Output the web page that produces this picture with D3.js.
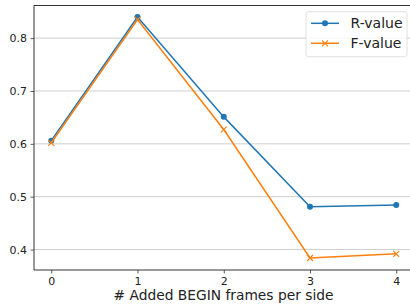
<!DOCTYPE html>
<html><head><meta charset="utf-8">
<script src="https://cdn.jsdelivr.net/npm/d3@7"></script>
<style>body{margin:0;background:#fff}svg{display:block;font-family:"DejaVu Sans",sans-serif}</style>
</head><body><svg id="c" width="410" height="308"></svg>
<script>
const xValues = [0, 1, 2, 3, 4];
const rValues = [0.606, 0.840, 0.651, 0.481, 0.4845];
const fValues = [0.602, 0.835, 0.627, 0.384, 0.392];
const yTicks = [0.4, 0.5, 0.6, 0.7, 0.8];
const seriesNames = ["R-value", "F-value"];
const colors = ["#1f77b4", "#ff7f0e"];
const xLabel = "# Added BEGIN frames per side";

const svg = d3.select("#c");
const L = 34, T = 5.5, B = 270, R = 413.5;
const x = d3.scaleLinear().domain([-0.2, 4.2]).range([L, R]);
const y = d3.scaleLinear().domain([0.3613, 0.8617]).range([B, T]);

// grid
svg.append("g").selectAll("line").data(yTicks).join("line")
  .attr("x1", L).attr("x2", R).attr("y1", d => y(d)).attr("y2", d => y(d))
  .attr("stroke", "#c8c8c8").attr("stroke-width", 0.9);

// axes
const ya = svg.append("g").attr("transform", `translate(${L},0)`)
  .call(d3.axisLeft(y).tickValues(yTicks).tickFormat(d3.format(".1f")).tickSize(3.5).tickPadding(3.5));
const xa = svg.append("g").attr("transform", `translate(0,${B})`)
  .call(d3.axisBottom(x).tickValues(xValues).tickFormat(d3.format("d")).tickSize(3.5).tickPadding(3.5));
[ya, xa].forEach(g => {
  g.select(".domain").remove();
  g.selectAll("line").attr("stroke", "#333").attr("stroke-width", 0.8);
  g.selectAll("text").attr("font-size", 11).attr("fill", "#222").attr("font-family", "DejaVu Sans");
});
// spines
svg.append("line").attr("x1", L).attr("x2", L).attr("y1", T).attr("y2", B).attr("stroke", "#333").attr("stroke-width", 1);
svg.append("line").attr("x1", L).attr("x2", R).attr("y1", B).attr("y2", B).attr("stroke", "#333").attr("stroke-width", 1);
svg.append("line").attr("x1", L).attr("x2", R).attr("y1", T).attr("y2", T).attr("stroke", "#333").attr("stroke-width", 1);

// x label
svg.append("text").attr("x", 223.5).attr("y", 300).attr("text-anchor", "middle")
  .attr("font-size", 13.8).attr("fill", "#222").text(xLabel);

const line = d3.line().x((d, i) => x(xValues[i])).y(d => y(d));
function xMark(g, cx, cy, s, c) {
  g.append("path").attr("d", `M${cx - s},${cy - s}L${cx + s},${cy + s}M${cx - s},${cy + s}L${cx + s},${cy - s}`)
    .attr("stroke", c).attr("stroke-width", 1.1).attr("fill", "none");
}
// R series
svg.append("path").datum(rValues).attr("d", line).attr("fill", "none").attr("stroke", colors[0]).attr("stroke-width", 1.5);
svg.append("g").selectAll("circle").data(rValues).join("circle")
  .attr("cx", (d, i) => x(xValues[i])).attr("cy", d => y(d)).attr("r", 3).attr("fill", colors[0]);
// F series
svg.append("path").datum(fValues).attr("d", line).attr("fill", "none").attr("stroke", colors[1]).attr("stroke-width", 1.5);
const fm = svg.append("g");
fValues.forEach((d, i) => xMark(fm, x(xValues[i]), y(d), 3, colors[1]));

// legend
const lg = svg.append("g");
lg.append("rect").attr("x", 306).attr("y", 11.7).attr("width", 101).attr("height", 45).attr("rx", 2.5)
  .attr("fill", "#fff").attr("fill-opacity", 0.8).attr("stroke", "#d8d8d8").attr("stroke-width", 0.8);
const rows = [23.3, 43.3];
rows.forEach((ry, i) => {
  lg.append("line").attr("x1", 311).attr("x2", 339).attr("y1", ry).attr("y2", ry).attr("stroke", colors[i]).attr("stroke-width", 1.5);
  if (i === 0) lg.append("circle").attr("cx", 325).attr("cy", ry).attr("r", 3).attr("fill", colors[0]);
  else xMark(lg, 325, ry, 3, colors[1]);
  lg.append("text").attr("x", 350.5).attr("y", ry + 5).attr("font-size", 14).attr("fill", "#222").text(seriesNames[i]);
});
</script></body></html>
